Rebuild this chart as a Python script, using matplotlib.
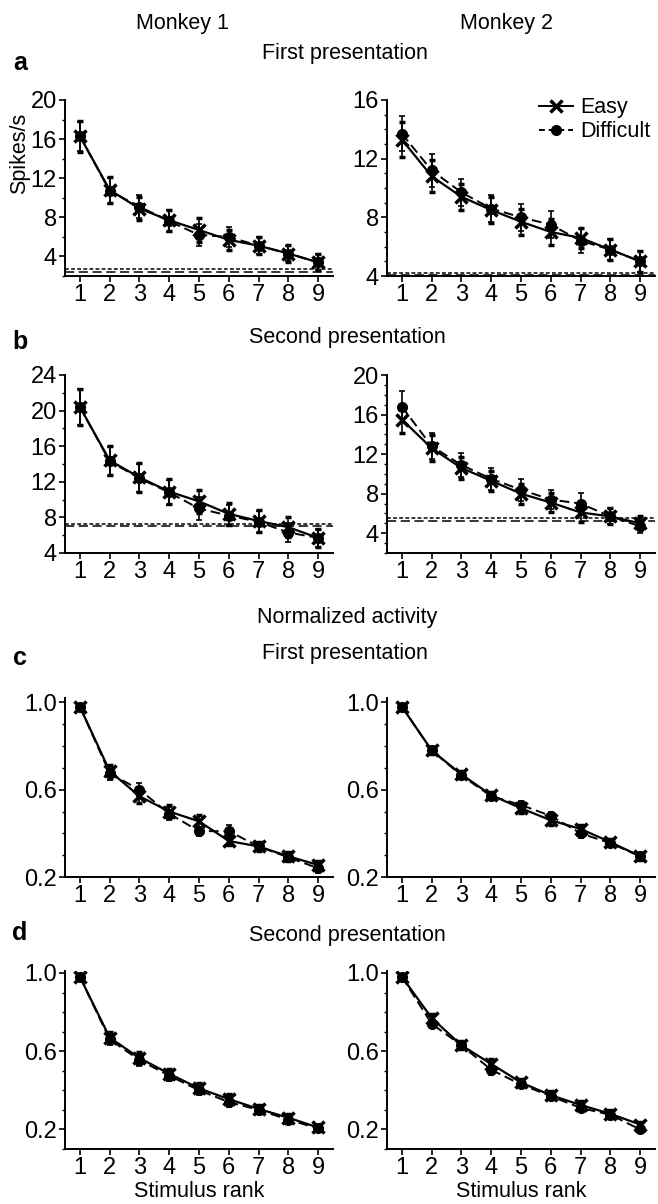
import matplotlib
matplotlib.use("Agg")
import matplotlib.pyplot as plt
from matplotlib.lines import Line2D
from matplotlib.ticker import MultipleLocator

plt.rcParams['font.family'] = ['Liberation Sans', 'DejaVu Sans']

rank = [1, 2, 3, 4, 5, 6, 7, 8, 9]

# a - spikes/s, first presentation
a1_easy = [16.3, 10.8, 8.9, 7.7, 6.7, 5.7, 5.1, 4.3, 3.4]
a1_easy_err = [1.6, 1.3, 1.2, 1.1, 1.2, 1.0, 0.9, 0.9, 0.8]
a1_diff = [16.3, 10.7, 9.1, 7.6, 6.2, 6.0, 5.1, 4.3, 3.4]
a1_diff_err = [1.5, 1.3, 1.2, 1.1, 1.1, 1.0, 0.9, 0.8, 0.8]
a1_base = [2.7, 2.45]

a2_easy = [13.3, 10.8, 9.4, 8.5, 7.7, 7.0, 6.6, 5.8, 5.0]
a2_easy_err = [1.2, 1.1, 0.9, 0.9, 0.9, 0.9, 0.7, 0.7, 0.7]
a2_diff = [13.7, 11.2, 9.7, 8.6, 8.0, 7.5, 6.4, 5.8, 5.0]
a2_diff_err = [1.2, 1.1, 0.9, 0.9, 0.9, 0.9, 0.8, 0.7, 0.7]
a2_base = [4.2, 4.05]

# b - spikes/s, second presentation
b1_easy = [20.4, 14.4, 12.5, 10.9, 9.8, 8.4, 7.6, 6.9, 5.7]
b1_easy_err = [2.0, 1.6, 1.6, 1.4, 1.3, 1.2, 1.2, 1.1, 1.0]
b1_diff = [20.4, 14.3, 12.4, 10.8, 9.0, 8.2, 7.5, 6.3, 5.7]
b1_diff_err = [2.0, 1.6, 1.6, 1.4, 1.3, 1.2, 1.2, 1.1, 1.0]
b1_base = [7.3, 7.05]

b2_easy = [15.5, 12.6, 10.6, 9.3, 8.0, 7.1, 6.1, 5.7, 5.0]
b2_easy_err = [1.4, 1.3, 1.1, 1.0, 1.0, 1.0, 1.0, 0.8, 0.7]
b2_diff = [16.8, 12.8, 10.9, 9.5, 8.4, 7.4, 7.0, 5.7, 4.7]
b2_diff_err = [1.6, 1.3, 1.2, 1.1, 1.1, 1.0, 1.1, 0.8, 0.7]
b2_base = [5.5, 5.25]

# c - normalized, first presentation
c1_easy = [0.98, 0.685, 0.57, 0.50, 0.455, 0.365, 0.34, 0.295, 0.255]
c1_easy_err = [0.01, 0.03, 0.03, 0.03, 0.03, 0.02, 0.02, 0.02, 0.02]
c1_diff = [0.98, 0.675, 0.60, 0.49, 0.41, 0.41, 0.34, 0.29, 0.24]
c1_diff_err = [0.01, 0.03, 0.03, 0.03, 0.02, 0.03, 0.02, 0.02, 0.02]

c2_easy = [0.98, 0.78, 0.67, 0.575, 0.515, 0.46, 0.42, 0.36, 0.295]
c2_easy_err = [0.01, 0.015, 0.015, 0.015, 0.02, 0.02, 0.02, 0.015, 0.015]
c2_diff = [0.98, 0.78, 0.665, 0.57, 0.53, 0.48, 0.40, 0.355, 0.295]
c2_diff_err = [0.01, 0.015, 0.015, 0.015, 0.02, 0.02, 0.02, 0.015, 0.015]

# d - normalized, second presentation
d1_easy = [0.98, 0.67, 0.565, 0.485, 0.41, 0.355, 0.305, 0.26, 0.21]
d1_easy_err = [0.01, 0.03, 0.03, 0.025, 0.025, 0.025, 0.02, 0.02, 0.015]
d1_diff = [0.98, 0.66, 0.555, 0.475, 0.40, 0.34, 0.30, 0.25, 0.205]
d1_diff_err = [0.01, 0.03, 0.03, 0.025, 0.025, 0.025, 0.02, 0.02, 0.015]

d2_easy = [0.98, 0.77, 0.63, 0.535, 0.44, 0.375, 0.325, 0.28, 0.225]
d2_easy_err = [0.01, 0.02, 0.02, 0.025, 0.02, 0.02, 0.02, 0.02, 0.015]
d2_diff = [0.98, 0.74, 0.63, 0.505, 0.43, 0.37, 0.31, 0.275, 0.20]
d2_diff_err = [0.01, 0.02, 0.02, 0.025, 0.02, 0.02, 0.02, 0.02, 0.015]

W, H = 658, 1204
fig = plt.figure(figsize=(W / 100, H / 100), dpi=100)


def px_axes(x0, y_top, x1, y_bot):
    return fig.add_axes([x0 / W, 1 - y_bot / H, (x1 - x0) / W, (y_bot - y_top) / H])


def ftext(x, y, s, **kw):
    fig.text(x / W, 1 - y / H, s, **kw)


panels = [
    # (easy, easy_err, diff, diff_err, baselines, ylim, majors, minor, rows px, column)
    (a1_easy, a1_easy_err, a1_diff, a1_diff_err, a1_base, (2, 20), [4, 8, 12, 16, 20], 2, (100, 276), 0),
    (a2_easy, a2_easy_err, a2_diff, a2_diff_err, a2_base, (4, 16), [4, 8, 12, 16], 1, (100, 276), 1),
    (b1_easy, b1_easy_err, b1_diff, b1_diff_err, b1_base, (4, 24), [4, 8, 12, 16, 20, 24], 2, (375, 553), 0),
    (b2_easy, b2_easy_err, b2_diff, b2_diff_err, b2_base, (2, 20), [4, 8, 12, 16, 20], 1, (375, 553), 1),
    (c1_easy, c1_easy_err, c1_diff, c1_diff_err, None, (0.2, 1.02), [0.2, 0.6, 1.0], 0.1, (698, 877), 0),
    (c2_easy, c2_easy_err, c2_diff, c2_diff_err, None, (0.2, 1.02), [0.2, 0.6, 1.0], 0.1, (698, 877), 1),
    (d1_easy, d1_easy_err, d1_diff, d1_diff_err, None, (0.1, 1.01), [0.2, 0.6, 1.0], 0.1, (971, 1149), 0),
    (d2_easy, d2_easy_err, d2_diff, d2_diff_err, None, (0.1, 1.01), [0.2, 0.6, 1.0], 0.1, (971, 1149), 1),
]

cols = [(65, 333), (387, 655)]
axes = []
for easy, eerr, diff, derr, base, ylim, majors, minor, (yt, yb), col in panels:
    ax = px_axes(cols[col][0], yt, cols[col][1], yb)
    axes.append(ax)
    if base is not None:
        ax.axhline(base[0], color='k', lw=1.1, ls=(0, (2.5, 1.5)), zorder=1)
        ax.axhline(base[1], color='k', lw=1.1, ls=(0, (6, 3)), zorder=1)
    ax.errorbar(rank, diff, yerr=derr, color='k', lw=1.4, ls=(0, (5, 2.5)),
                marker='o', ms=7, elinewidth=1.2, capsize=2.5, capthick=1.2, zorder=3)
    ax.errorbar(rank, easy, yerr=eerr, color='k', lw=1.6, ls='-',
                marker='x', ms=9, mew=2.5, elinewidth=1.2, capsize=2.5, capthick=1.2, zorder=4)
    ax.set_xlim(0.5, 9.5)
    ax.set_ylim(*ylim)
    ax.set_xticks(rank)
    ax.set_yticks(majors)
    if isinstance(minor, float):
        ax.set_yticklabels([f"{v:.1f}" for v in majors])
    ax.yaxis.set_minor_locator(MultipleLocator(minor))
    for side in ['top', 'right']:
        ax.spines[side].set_visible(False)
    for side in ['left', 'bottom']:
        ax.spines[side].set_linewidth(1.4)
    ax.tick_params(axis='both', which='major', labelsize=17, length=4, width=1.2, pad=2)
    ax.tick_params(axis='y', which='minor', length=2.5, width=1.0)

# legend in the top-right panel
handles = [
    Line2D([], [], color='k', lw=1.4, ls='-', marker='x', ms=9, mew=2.5),
    Line2D([], [], color='k', lw=1.4, ls=(0, (3, 2)), marker='o', ms=7),
]
axes[1].legend(handles, ['Easy', 'Difficult'], loc='upper right', bbox_to_anchor=(1.03, 1.09),
               frameon=False, fontsize=15.5, handlelength=1.6, handletextpad=0.3, labelspacing=0.15,
               borderaxespad=0.2)

axes[6].set_xlabel('Stimulus rank', fontsize=15.5, labelpad=1)
axes[7].set_xlabel('Stimulus rank', fontsize=15.5, labelpad=1)

ftext(182, 23, 'Monkey 1', fontsize=15.5, ha='center', va='center')
ftext(507, 23, 'Monkey 2', fontsize=15.5, ha='center', va='center')
ftext(20, 153, 'Spikes/s', fontsize=15.5, ha='center', va='center', rotation=90)

ftext(345, 53, 'First presentation', fontsize=15.5, ha='center', va='center')
ftext(347, 338, 'Second presentation', fontsize=15.5, ha='center', va='center')
ftext(347, 618, 'Normalized activity', fontsize=15.5, ha='center', va='center')
ftext(345, 653, 'First presentation', fontsize=15.5, ha='center', va='center')
ftext(347, 935, 'Second presentation', fontsize=15.5, ha='center', va='center')

for lbl, y in [('a', 63), ('b', 342), ('c', 658), ('d', 933)]:
    ftext(20, y, lbl, fontsize=18, fontweight='bold', ha='center', va='center')

fig.savefig('out.png', dpi=100)
